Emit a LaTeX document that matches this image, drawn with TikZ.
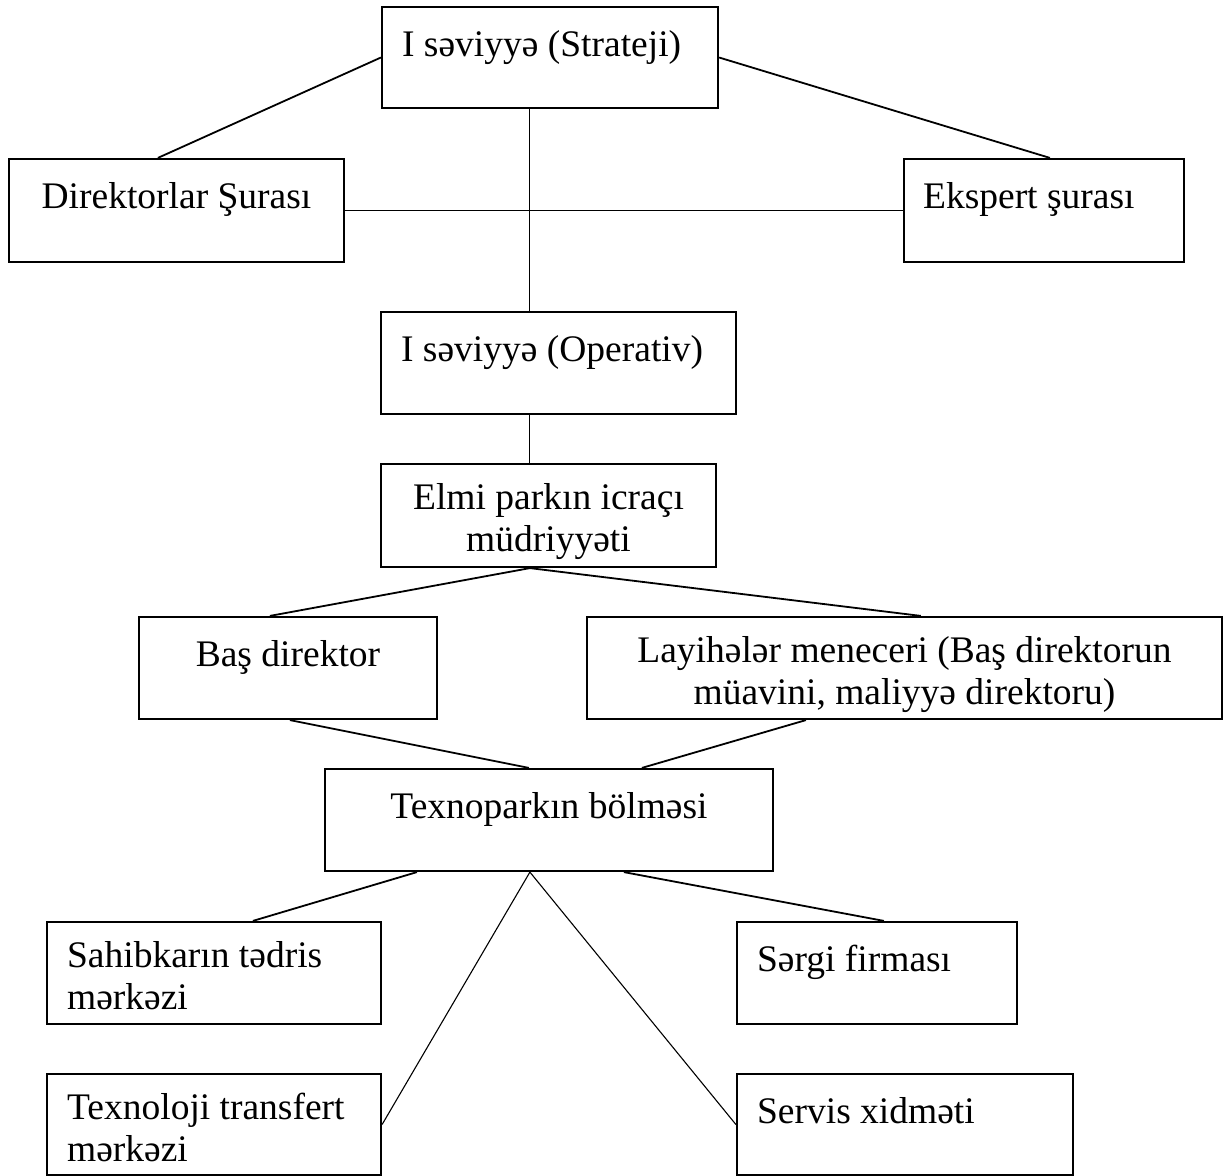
\documentclass[tikz,border=0pt]{standalone}
\usepackage{fontspec}
\setmainfont{Liberation Serif}
\newcommand{\mystrut}{\rule{0pt}{30pt}}
\begin{document}
\begin{tikzpicture}[x=1pt,y=-1pt,
  box/.style={draw=black, line width=2.2pt, inner sep=0pt, fill=none},
  conn/.style={draw=black, line width=1.8pt},
  thinconn/.style={draw=black, line width=1.1pt},
  txt/.style={inner sep=0pt, font=\fontsize{37.5}{42}\selectfont, execute at begin node=\mystrut},
  ctxt/.style={txt, anchor=north, align=center},
  ltxt/.style={txt, anchor=north west, align=left}]
\useasboundingbox (0,0) rectangle (1227,1176);
% boxes
\node[box, minimum width=336pt, minimum height=101pt] (s1) at (550,57.5) {};
\node[box, minimum width=335pt, minimum height=103pt] (d) at (176.5,210.5) {};
\node[box, minimum width=280pt, minimum height=103pt] (e) at (1044,210.5) {};
\node[box, minimum width=355pt, minimum height=102pt] (o) at (558.5,363) {};
\node[box, minimum width=335pt, minimum height=103pt] (m) at (548.5,515.5) {};
\node[box, minimum width=298pt, minimum height=102pt] (b) at (288,668) {};
\node[box, minimum width=635pt, minimum height=102pt] (l) at (904.5,668) {};
\node[box, minimum width=448pt, minimum height=102pt] (t) at (549,820) {};
\node[box, minimum width=334pt, minimum height=102pt] (sa) at (214,973) {};
\node[box, minimum width=280pt, minimum height=102pt] (sg) at (877,973) {};
\node[box, minimum width=334pt, minimum height=101pt] (tt) at (214,1124.5) {};
\node[box, minimum width=336pt, minimum height=101pt] (sx) at (905,1124.5) {};
% texts
\node[ltxt] (s1t) at ([xshift=21pt,yshift=-20pt]s1.north west) {I səviyyə (Strateji)};
\node[ctxt] (dt) at ([yshift=-20pt]d.north) {Direktorlar Şurası};
\node[ltxt] (et) at ([xshift=20pt,yshift=-20pt]e.north west) {Ekspert şurası};
\node[ltxt] (ot) at ([xshift=21pt,yshift=-20pt]o.north west) {I səviyyə (Operativ)};
\node[ctxt] (mt) at ([yshift=-20pt]m.north) {Elmi parkın icraçı\\müdriyyəti};
\node[ctxt] (bt) at ([yshift=-20pt]b.north) {Baş direktor};
\node[ctxt] (lt) at ([yshift=-20pt]l.north) {Layihələr meneceri (Baş direktorun\\müavini, maliyyə direktoru)};
\node[ctxt] (tt0) at ([yshift=-20pt]t.north) {Texnoparkın bölməsi};
\node[ltxt] (sat) at ([xshift=21pt,yshift=-20pt]sa.north west) {Sahibkarın tədris\\mərkəzi};
\node[ltxt] (sgt) at ([xshift=21pt,yshift=-20pt]sg.north west) {Sərgi firması};
\node[ltxt] (ttt) at ([xshift=21pt,yshift=-20pt]tt.north west) {Texnoloji transfert\\mərkəzi};
\node[ltxt] (sxt) at ([xshift=21pt,yshift=-20pt]sx.north west) {Servis xidməti};
% connectors
\draw[conn] (s1.west) -- ([xshift=150pt]d.north west);
\draw[conn] (s1.east) -- ([xshift=147pt]e.north west);
\draw[thinconn] ([xshift=149pt]s1.south west) -- ([xshift=150pt]o.north west);
\draw[conn] (d.east) -- (e.west);
\draw[thinconn] ([xshift=150pt]o.south west) -- ([xshift=150pt]m.north west);
\draw[conn] ([xshift=150pt]m.south west) -- ([xshift=132pt]b.north west);
\draw[conn] ([xshift=150pt]m.south west) -- ([xshift=335pt]l.north west);
\draw[conn] ([xshift=152pt]b.south west) -- ([xshift=205pt]t.north west);
\draw[conn] ([xshift=220pt]l.south west) -- ([xshift=318pt]t.north west);
\draw[conn] ([xshift=93pt]t.south west) -- ([xshift=207pt]sa.north west);
\draw[conn] ([xshift=300pt]t.south west) -- ([xshift=148pt]sg.north west);
\draw[thinconn] ([xshift=206pt]t.south west) -- (tt.east);
\draw[thinconn] ([xshift=206pt]t.south west) -- (sx.west);
\end{tikzpicture}
\end{document}
